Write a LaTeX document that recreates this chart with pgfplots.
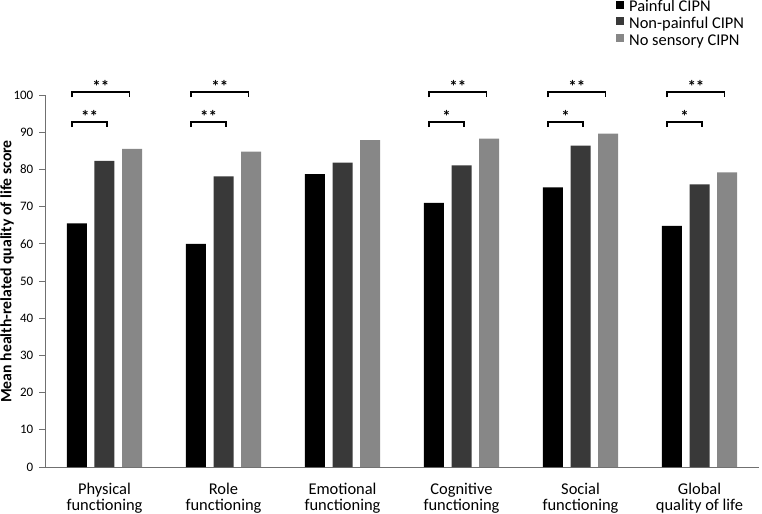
\documentclass[border=0pt]{standalone}
\usepackage{fontspec}
\setmainfont{Carlito}
\usepackage{pgfplots}
\pgfplotsset{compat=1.18}

\definecolor{painful}{HTML}{000000}
\definecolor{nonpain}{HTML}{393939}
\definecolor{nosens}{HTML}{878787}
\definecolor{axisgray}{HTML}{707070}

\pgfplotsset{sqlegend/.style={legend image code/.code={\fill[##1] (0bp,-1bp) rectangle (8bp,7bp);}}}

% bracket: x1, x2, y top, y of the feet
\newcommand{\brk}[4]{%
  \draw[line width=1.8bp] (axis cs:#1,#4) -- (axis cs:#1,#3) -- (axis cs:#2,#3) -- (axis cs:#2,#4);
}

\begin{document}
\begin{tikzpicture}
\useasboundingbox (-45bp,-47bp) rectangle (717bp,467bp);
\begin{axis}[
  width=714bp, height=372bp, scale only axis,
  xmin=-0.5, xmax=5.5, ymin=0, ymax=100,
  axis x line*=bottom, axis y line*=left,
  ybar=7.7bp, bar width=20bp,
  xtick={0,1,2,3,4,5},
  xticklabels={{Physical\\functioning},{Role\\functioning},{Emotional\\functioning},
                {Cognitive\\functioning},{Social\\functioning},{Global\\quality of life}},
  ytick={0,10,...,100},
  tick align=outside, major tick length=5.5bp,
  xtick style={draw=none},
  ytick style={axisgray, line width=0.8bp},
  axis line style={axisgray, line width=0.8bp},
  /pgf/number format/assume math mode=true,
  yticklabel style={font=\fontsize{13}{15}\selectfont, inner sep=0pt, xshift=-6bp},
  xticklabel style={font=\fontsize{16.5}{16.5}\selectfont, align=center, inner sep=0pt, yshift=-10bp},
  ylabel={Mean health-related quality of life score},
  ylabel style={font=\bfseries\fontsize{15.8}{17}\selectfont, at={(axis description cs:-0.0532,0.5255)}, anchor=center},
  legend style={at={(rel axis cs:0.7997,1.2554)}, anchor=north west, draw=none, fill=none,
    font=\fontsize{16.5}{17}\selectfont, inner sep=0pt, row sep=1.7bp,
    nodes={inner sep=0pt, text height=11.5bp, text depth=3.5bp},
    /tikz/every odd column/.append style={column sep=5bp}},
  legend cell align=left,
  clip=false,
]
\addplot[fill=painful, draw=none, sqlegend]
  coordinates {(0,65.5) (1,60.0) (2,78.7) (3,71.0) (4,75.2) (5,64.8)};
\addplot[fill=nonpain, draw=none, sqlegend]
  coordinates {(0,82.3) (1,78.1) (2,81.8) (3,81.1) (4,86.4) (5,76.0)};
\addplot[fill=nosens, draw=none, sqlegend]
  coordinates {(0,85.5) (1,84.8) (2,87.9) (3,88.3) (4,89.6) (5,79.2)};
\legend{Painful CIPN, Non-painful CIPN, No sensory CIPN}

% significance brackets
\brk{-0.27}{0.02}{92.7}{91.35}
\brk{-0.27}{0.21}{100.7}{99.35}
\brk{0.73}{1.02}{92.7}{91.35}
\brk{0.73}{1.21}{100.7}{99.35}
\brk{2.73}{3.02}{92.7}{91.35}
\brk{2.73}{3.21}{100.7}{99.35}
\brk{3.73}{4.02}{92.7}{91.35}
\brk{3.73}{4.21}{100.7}{99.35}
\brk{4.73}{5.02}{92.7}{91.35}
\brk{4.73}{5.21}{100.7}{99.35}
\begin{scope}[every node/.style={font=\bfseries\fontsize{17}{17}\selectfont, anchor=base, inner sep=0pt, yshift=0bp}]
\node at (axis cs:-0.125,92.7) {**};
\node at (axis cs:-0.03,100.7) {**};
\node at (axis cs:0.875,92.7) {**};
\node at (axis cs:0.97,100.7) {**};
\node at (axis cs:2.875,92.7) {*};
\node at (axis cs:2.97,100.7) {**};
\node at (axis cs:3.875,92.7) {*};
\node at (axis cs:3.97,100.7) {**};
\node at (axis cs:4.875,92.7) {*};
\node at (axis cs:4.97,100.7) {**};
\end{scope}
\end{axis}
\end{tikzpicture}
\end{document}
